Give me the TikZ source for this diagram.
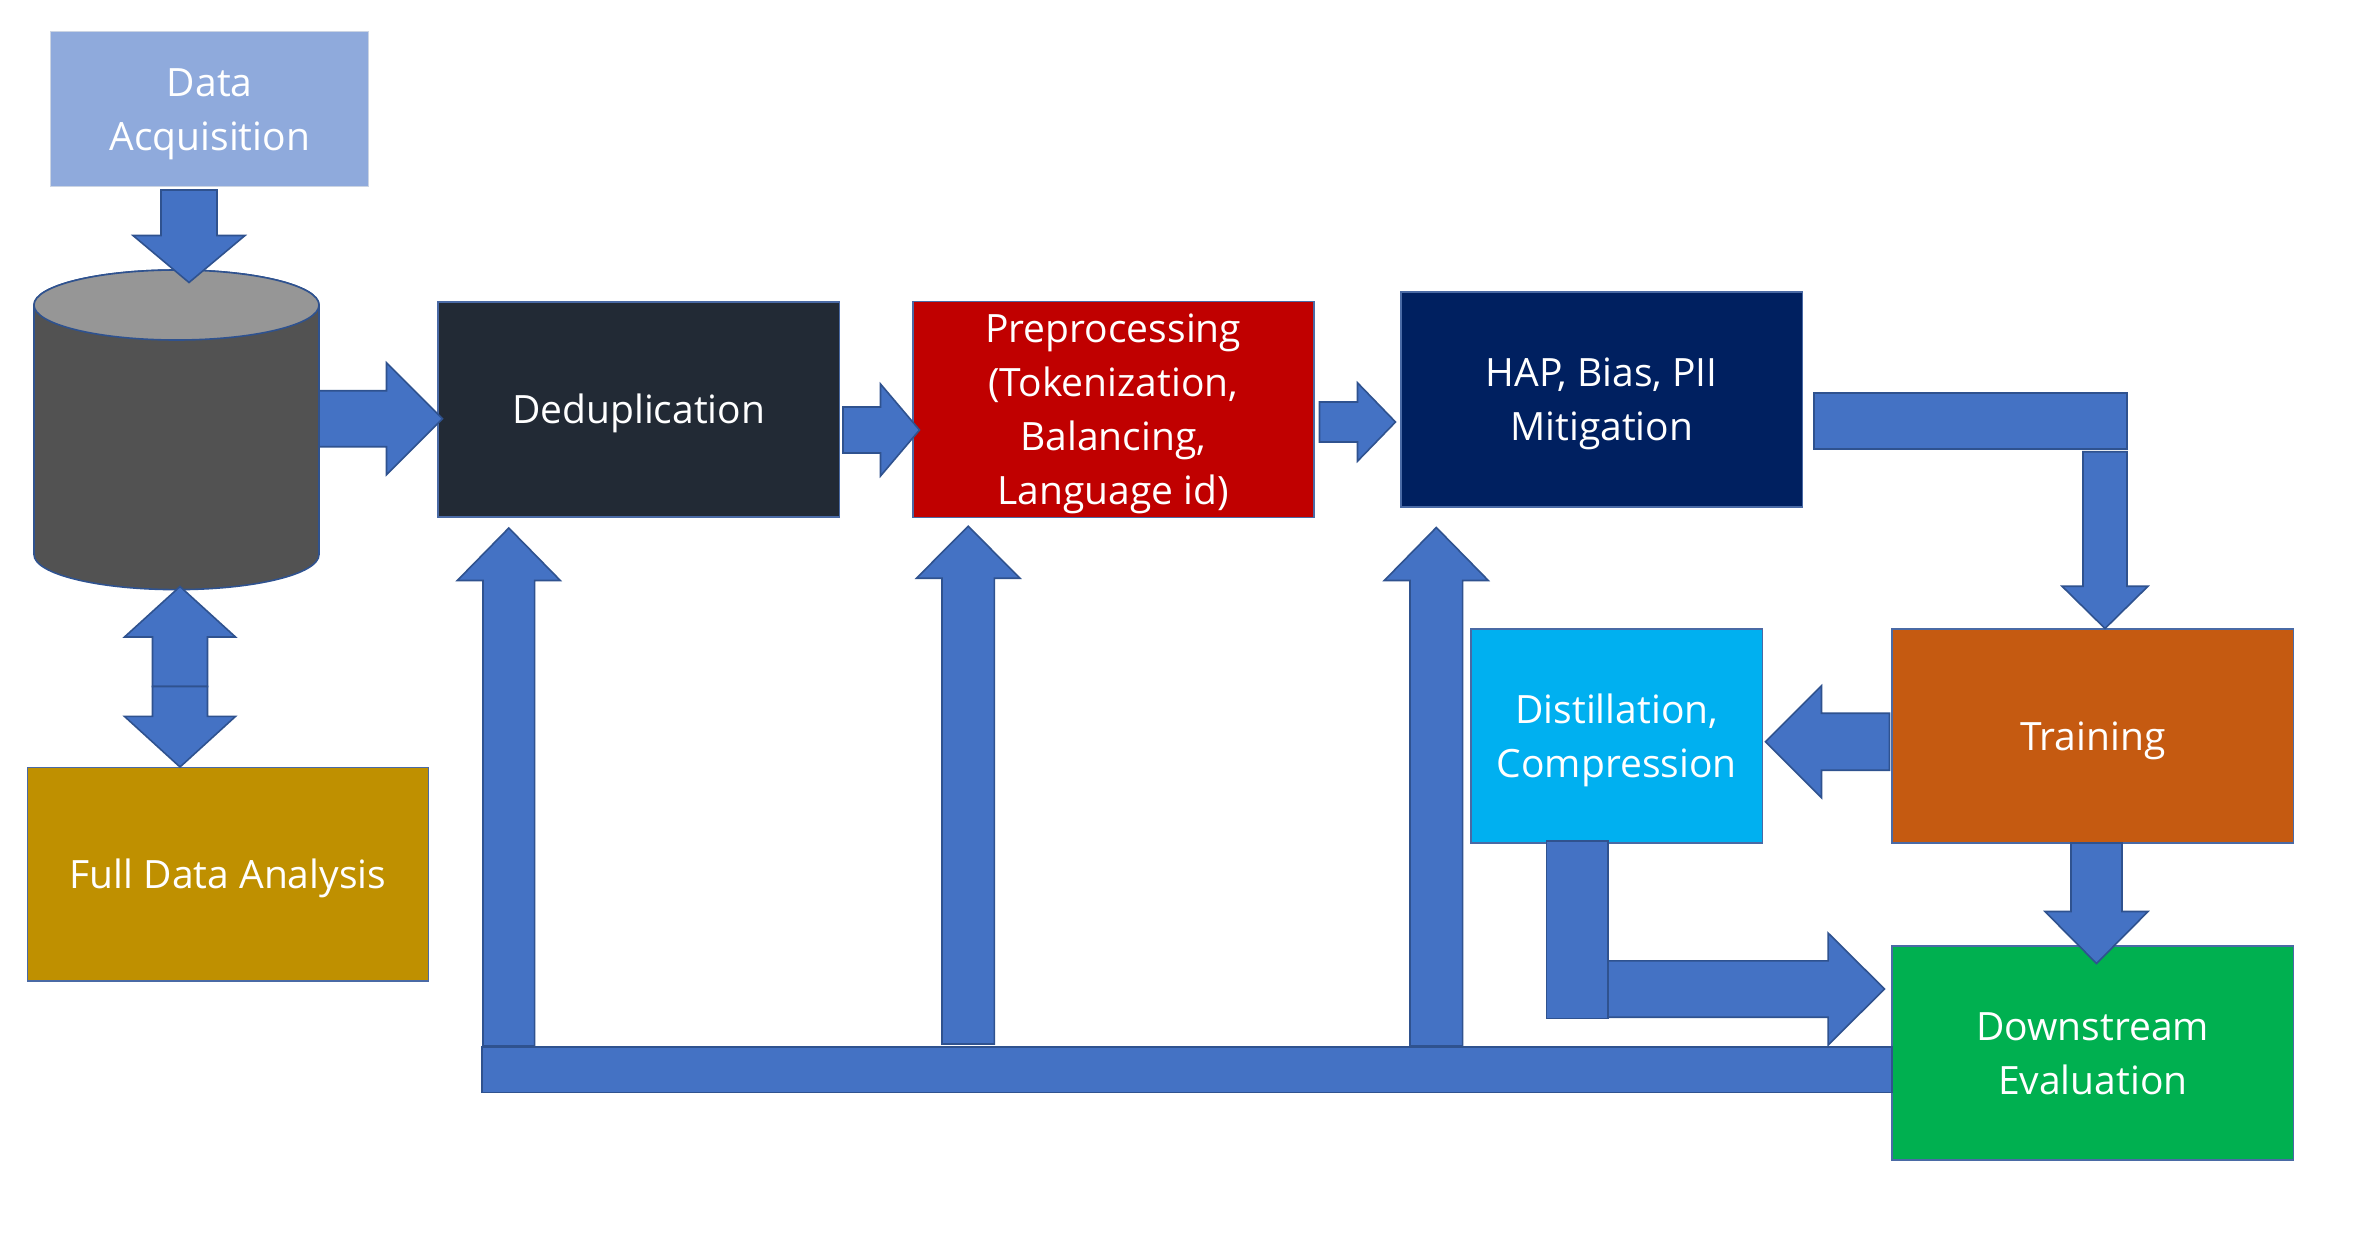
\documentclass[tikz,border=0pt]{standalone}
\usepackage{fontspec}
\usetikzlibrary{calc}
\setmainfont{Open Sans}
\definecolor{arrowfill}{HTML}{4472C4}
\definecolor{arrowline}{HTML}{2F528F}
\definecolor{boxline}{HTML}{4A6AA5}
\definecolor{dbside}{HTML}{525252}
\definecolor{dbcap}{HTML}{969696}
\definecolor{acqfill}{HTML}{8FAADC}
\definecolor{dedupfill}{HTML}{222A35}
\definecolor{prepfill}{HTML}{C00000}
\definecolor{hapfill}{HTML}{002060}
\definecolor{fullfill}{HTML}{BF9000}
\definecolor{distfill}{HTML}{00B0F0}
\definecolor{trainfill}{HTML}{C55A11}
\definecolor{downfill}{HTML}{00B050}
\newcommand{\ls}{\vrule height 41pt depth 13pt width 0pt\relax}
\newcommand{\blockarrow}[5]{%
  \coordinate (ba) at ($(#2)!#5pt!(#1)$);
  \draw[blockshape]
    ($(#1)!#3pt!90:(#2)$) -- ($(ba)!#3pt!90:(#2)$) -- ($(ba)!#4pt!90:(#2)$) -- (#2)
    -- ($(ba)!#4pt!-90:(#2)$) -- ($(ba)!#3pt!-90:(#2)$) -- ($(#1)!#3pt!-90:(#2)$) -- cycle;
}
\tikzset{
  stagebox/.style={draw=boxline,line width=1.6pt,text=white,align=center,inner sep=0pt,outer sep=0pt,
    font=\fontsize{39}{54}\selectfont},
  blockshape/.style={draw=arrowline,line width=1.6pt,fill=arrowfill,line join=miter},
  dbbody/.style={draw=arrowline,line width=1.6pt,fill=dbside},
  dbtop/.style={draw=arrowline,line width=1.6pt,fill=dbcap},
}
\begin{document}
\begin{tikzpicture}[x=1pt,y=-1pt]
\path[use as bounding box,fill=white] (0,0) rectangle (2353,1237);

% cylinder
\draw[dbbody] (34,305) -- (34,554.6) arc[start angle=180,end angle=360,x radius=142.5pt,y radius=35pt]
  -- (319,305) arc[start angle=0,end angle=180,x radius=142.5pt,y radius=35pt] -- cycle;
\draw[dbtop] (176.5,305) ellipse[x radius=142.5pt,y radius=35pt];

% stage boxes
\node[stagebox,draw=arrowline!25!white,line width=1.2pt,fill=acqfill,minimum width=318pt,minimum height=155.5pt] (acq) at (209.75,109) {\ls Data\\\ls Acquisition};
\node[stagebox,fill=dedupfill,minimum width=401.5pt,minimum height=214.5pt] (dedup) at (638.75,409.5) {\ls Deduplication};
\node[stagebox,fill=prepfill,minimum width=401pt,minimum height=214.5pt] (prep) at (1113.25,409.5) {\ls Preprocessing\\\ls (Tokenization,\\\ls Balancing,\\\ls Language id)};
\node[stagebox,fill=hapfill,minimum width=401.5pt,minimum height=214.5pt] (hap) at (1601.75,399.5) {\ls HAP, Bias, PII\\\ls Mitigation};
\node[stagebox,fill=fullfill,minimum width=401pt,minimum height=213.5pt] (full) at (228,874.4) {\ls Full Data Analysis};
\node[stagebox,fill=distfill,minimum width=291.5pt,minimum height=214pt] (dist) at (1616.75,736.25) {\ls Distillation,\\\ls Compression};
\node[stagebox,fill=trainfill,minimum width=401.5pt,minimum height=214pt] (train) at (2092.75,736.25) {\ls Training};
\node[stagebox,fill=downfill,minimum width=401.5pt,minimum height=214.5pt] (down) at (2092.75,1053) {\ls Downstream\\\ls Evaluation};

% arrow end points
\coordinate (acqS) at (189,190);    \coordinate (dbT) at (189,282.5);
\coordinate (dbS) at (319,418.7);   \coordinate (dedupT) at (442.5,418.7);
\coordinate (dedupS) at (843,430);  \coordinate (prepT) at (919.5,430);
\coordinate (prepS) at (1319.5,422);\coordinate (hapT) at (1395.5,422);
\coordinate (dbfS) at (180,686.5);  \coordinate (dbfT) at (180,586.5);  \coordinate (fullT) at (180,767);
\coordinate (fb1S) at (508.8,1046); \coordinate (fb1T) at (508.8,528);
\coordinate (fb2S) at (968.2,1044); \coordinate (fb2T) at (968.2,526.2);
\coordinate (fb3S) at (1436.3,1046);\coordinate (fb3T) at (1436.3,527.5);
\coordinate (hapS) at (2105,451.7); \coordinate (trainT) at (2105,628.5);
\coordinate (trainS) at (1889.5,741.7); \coordinate (distT) at (1765.5,741.7);
\coordinate (train2S) at (2096.5,843); \coordinate (downT) at (2096.5,963.5);
\coordinate (distS) at (1608,989);  \coordinate (down2T) at (1884.5,989);

% block arrows
\blockarrow{acqS}{dbT}{28}{56}{47}
\blockarrow{dbS}{dedupT}{28}{56}{56}
\blockarrow{dedupS}{prepT}{23}{46}{39}
\blockarrow{prepS}{hapT}{20}{39.2}{38}
\blockarrow{dbfS}{dbfT}{27.5}{55.5}{50.5}
\blockarrow{dbfS}{fullT}{27.5}{55.5}{50.6}
\blockarrow{fb1S}{fb1T}{25.8}{51.5}{52.5}
\blockarrow{fb2S}{fb2T}{26.2}{51.7}{52}
\blockarrow{fb3S}{fb3T}{26.3}{52}{53}
\draw[blockshape] (482,1047) rectangle (1892,1092.6);
\draw[blockshape] (1813.7,392.7) rectangle (2127,449);
\blockarrow{hapS}{trainT}{22}{43}{42.3}
\blockarrow{trainS}{distT}{28.5}{56}{56}
\blockarrow{train2S}{downT}{25.5}{51.5}{52}
\blockarrow{distS}{down2T}{28.2}{56}{56.4}
\draw[blockshape] (1546.5,841) rectangle (1608,1018.4);
\end{tikzpicture}
\end{document}
